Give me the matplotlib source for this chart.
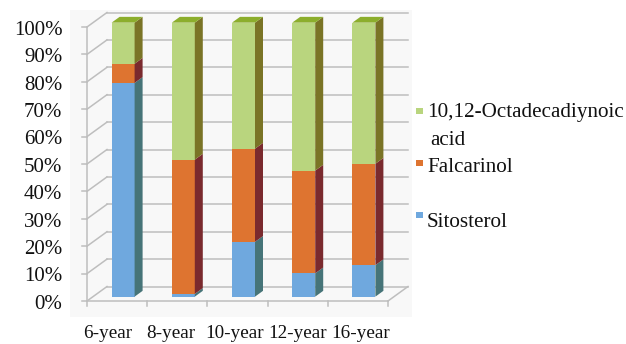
import matplotlib.pyplot as plt
from matplotlib.patches import Polygon, Rectangle

plt.rcParams['font.family'] = ['Liberation Serif', 'DejaVu Serif']

# Relative composition (%) per plant age
years = ["6-year", "8-year", "10-year", "12-year", "16-year"]
sitosterol = [78, 1, 20, 8.5, 11.5]
falcarinol = [7, 49, 34, 37.5, 37]
octadecadiynoic = [15, 50, 46, 54, 51.5]

series = [
    ("Sitosterol", sitosterol, "#6FA8DE", "#467478", "#5F93C0"),
    ("Falcarinol", falcarinol, "#DE7430", "#7A2A2E", "#C0612A"),
    ("10,12-Octadecadiynoic\nacid", octadecadiynoic, "#B9D57E", "#7A7426", "#8CAE2C"),
]
yticks = list(range(0, 101, 10))

W, H = 626, 344
fig = plt.figure(figsize=(W / 100, H / 100), dpi=100)
ax = fig.add_axes([0, 0, 1, 1])

# pixel scale of the front plane: x in category units, y in percent
px_x, px_y = 60.2, 2.74
x0_px, y0_px = 87, 301
ax.set_xlim(-x0_px / px_x, (W - x0_px) / px_x)
ax.set_ylim(-(H - y0_px) / px_y, y0_px / px_y)
ax.axis("off")

# wall depth offset (oblique projection)
DX, DY = 20 / px_x, 14.5 / px_y
grid = "#BEBEBE"
n = len(years)

# light plot area
ax.add_patch(Rectangle((-0.28, -5.8), n + DX + 0.35, 112, color="#F8F8F8", lw=0, zorder=0))

# back wall, side wall, front axis
for v in yticks:
    ax.plot([DX, n + DX], [v + DY, v + DY], color=grid, lw=1.1, zorder=1)
    ax.plot([0, DX], [v, v + DY], color=grid, lw=1.1, zorder=1)
    ax.plot([-0.08, 0], [v, v], color=grid, lw=1.1, zorder=1)
ax.plot([0, 0], [0, 100], color=grid, lw=1.1, zorder=1)
ax.plot([0, n], [0, 0], color=grid, lw=1.1, zorder=1)
ax.plot([n, n + DX], [0, DY], color=grid, lw=1.1, zorder=1)
for i in range(n + 1):
    ax.plot([i, i], [0, -1.9], color=grid, lw=1.1, zorder=1)

# bars: front at 30% of the depth, 40% deep
bw = 0.382
f0, fd = 0.3, 0.4
sx, sy = f0 * DX, f0 * DY
ddx, ddy = fd * DX, fd * DY
xc = [i + 0.5 + sx for i in range(n)]

bottom = [sy] * n
for name, vals, c_front, c_side, c_top in series:
    ax.bar(xc, vals, width=bw, bottom=bottom, color=c_front, lw=0, zorder=3)
    for x, b, v in zip(xc, bottom, vals):
        xr = x + bw / 2
        ax.add_patch(Polygon([(xr, b), (xr + ddx, b + ddy), (xr + ddx, b + v + ddy), (xr, b + v)],
                             closed=True, color=c_side, lw=0, zorder=3))
    bottom = [b + v for b, v in zip(bottom, vals)]

# top faces of the stacks
top_color = series[-1][4]
for x, t in zip(xc, bottom):
    xl, xr = x - bw / 2, x + bw / 2
    ax.add_patch(Polygon([(xl, t), (xr, t), (xr + ddx, t + ddy), (xl + ddx, t + ddy)],
                         closed=True, color=top_color, lw=0, zorder=3))

# axis labels
for v in yticks:
    ax.text(-0.41, v - 1.2, f"{v}%", ha="right", va="center", fontsize=15, color="#111111")
for i, lab in enumerate(years):
    ax.text(0.35 + 1.047 * i, -13.6, lab, ha="center", va="baseline", fontsize=13.8, color="#111111")

# legend
def fx(p):
    return p / W

def fy(p):
    return 1 - p / H

legend_rows = [
    (series[2], 108, 117),
    (series[1], 160, 172),
    (series[0], 212, 227),
]
for (name, _, c_front, _, _), sq_top, base in legend_rows:
    fig.patches.append(Rectangle((fx(416), fy(sq_top + 6)), fx(7), 6 / H, color=c_front,
                                 transform=fig.transFigure, figure=fig, lw=0))
    lines = name.split("\n")
    fig.text(fx(427), fy(base), lines[0], ha="left", va="baseline", fontsize=15.2, color="#111111")
    if len(lines) > 1:
        fig.text(fx(430), fy(base + 28), lines[1], ha="left", va="baseline", fontsize=15.2, color="#111111")

fig.savefig("out.png", dpi=100, facecolor="white")
